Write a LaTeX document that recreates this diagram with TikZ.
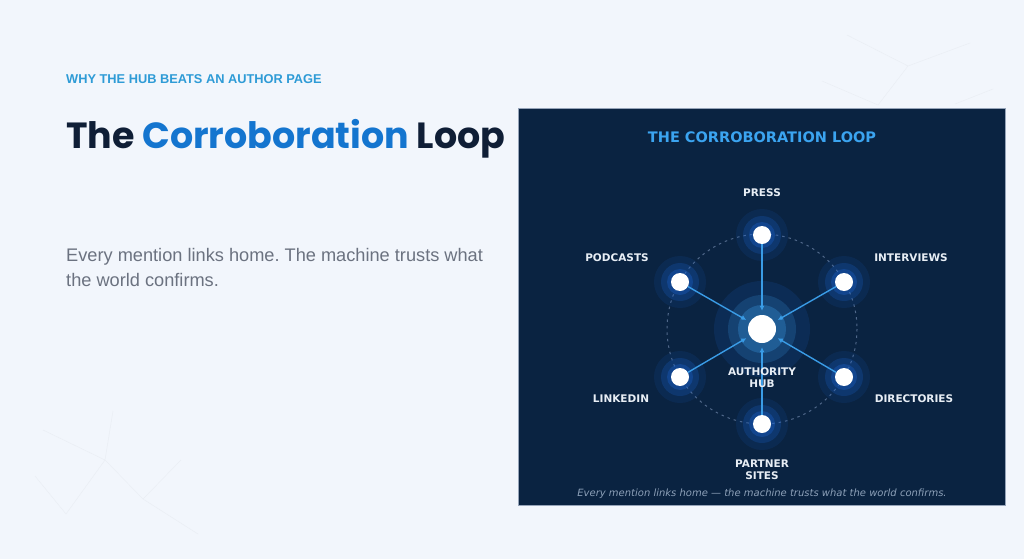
\documentclass[tikz,border=0pt]{standalone}
\usepackage{fontspec}
\setmainfont{Liberation Sans}
\newfontfamily\titlefont{Poppins}
\newfontfamily\panelfont{DejaVu Sans}
\usepackage{tikz}
\usetikzlibrary{arrows.meta,positioning}
\definecolor{page}{HTML}{F2F6FC}
\definecolor{ink}{HTML}{0F1E36}
\definecolor{accent}{HTML}{1475CF}
\definecolor{kicker}{HTML}{2E9BD6}
\definecolor{muted}{HTML}{6B7280}
\definecolor{panel}{HTML}{0A2341}
\definecolor{sky}{HTML}{3BA4F0}
\definecolor{spokec}{HTML}{3A9CE6}
\definecolor{glow}{HTML}{1A62CC}
\definecolor{dashc}{HTML}{50688A}
\definecolor{labelc}{HTML}{E8EEF5}
\definecolor{capc}{HTML}{8CA0B8}
\definecolor{faint}{HTML}{EAEEF4}

\begin{document}
\begin{tikzpicture}[
  x=1pt, y=-1pt,
  dot/.style={circle, fill=white, inner sep=0pt, minimum size=18pt},
  hubdot/.style={circle, fill=white, inner sep=0pt, minimum size=28pt},
  lbl/.style={text=labelc, align=center, font=\panelfont\bfseries\fontsize{10.5}{12}\selectfont},
  spoke/.style={draw=spokec, line width=1.4pt, -{Latex[length=5pt,width=5pt]}, shorten >=4pt},
  ring/.style={draw=dashc, dash pattern=on 2.5pt off 4pt, line width=1pt}
]
% page and bounds
\fill[page] (0,0) rectangle (1024,559);
\useasboundingbox (0,0) rectangle (1024,559);

% faint background network
\draw[faint, line width=0.5pt] (847,35) -- (908,66) -- (970,43)
  (908,66) -- (878,105) (822,81) -- (878,105) (993,89) -- (955,104);
\draw[faint, line width=0.5pt] (113,411) -- (105,460) -- (66,514) -- (35,476)
  (43,430) -- (105,460) -- (143,499) -- (198,534) (143,499) -- (181,460);

% left column
\node[anchor=base west, inner sep=0pt, text=kicker, font=\bfseries\fontsize{12.8}{14}\selectfont]
  (kick) at (66,84) {WHY THE HUB BEATS AN AUTHOR PAGE};
\node[anchor=base west, inner sep=0pt, font=\titlefont\bfseries\fontsize{36.4}{44}\selectfont]
  (title) at (66,148) {\textcolor{ink}{The} \textcolor{accent}{Corroboration} \textcolor{ink}{Loop}};
\node[anchor=base west, inner sep=0pt, text=muted, align=left,
  font=\frenchspacing\fontsize{18.2}{25}\selectfont] (lead) at (66,286)
  {Every mention links home. The machine trusts what\\the world confirms.};

% panel
\fill[panel] (518,108) rectangle (1005,505);
\draw[dashc!60, line width=0.6pt] (518,108) rectangle (1005,505);
\node[text=sky, font=\panelfont\bfseries\fontsize{14.5}{16}\selectfont] (ptitle) at (762,137)
  {THE CORROBORATION LOOP};

\coordinate (c) at (762,329);
\draw[ring] (c) circle[radius=95];

% glows
\foreach \p in {(762,235),(844,282),(844,377),(762,424),(680,377),(680,282)} {
  \fill[glow, opacity=0.12] \p circle[radius=26];
  \fill[glow, opacity=0.24] \p circle[radius=19];
  \fill[glow, opacity=0.34] \p circle[radius=13];
}
\fill[glow, opacity=0.15] (c) circle[radius=48];
\fill[spokec, opacity=0.20] (c) circle[radius=34];
\fill[spokec, opacity=0.30] (c) circle[radius=24];

% nodes
\node[hubdot] (hub) at (c) {};
\node[dot] (press) at (762,235) {};
\node[dot] (interviews) at (844,282) {};
\node[dot] (directories) at (844,377) {};
\node[dot] (partner) at (762,424) {};
\node[dot] (linkedin) at (680,377) {};
\node[dot] (podcasts) at (680,282) {};

\draw[spoke] (press) -- (hub);
\draw[spoke] (interviews) -- (hub);
\draw[spoke] (directories) -- (hub);
\draw[spoke] (partner) -- (hub);
\draw[spoke] (linkedin) -- (hub);
\draw[spoke] (podcasts) -- (hub);

% labels
\node[lbl] (lpress) at (762,193) {PRESS};
\node[lbl] (linter) at (911,258) {INTERVIEWS};
\node[lbl] (ldir) at (914,399) {DIRECTORIES};
\node[lbl] (lpart) at (762,470) {PARTNER\\SITES};
\node[lbl] (llink) at (621,399) {LINKEDIN};
\node[lbl] (lpod) at (617,258) {PODCASTS};
\node[lbl] (lhub) at (762,378) {AUTHORITY\\HUB};

\node[text=capc, font=\panelfont\itshape\fontsize{10}{11}\selectfont] (caption) at (762,494)
  {Every mention links home — the machine trusts what the world confirms.};
\end{tikzpicture}
\end{document}
